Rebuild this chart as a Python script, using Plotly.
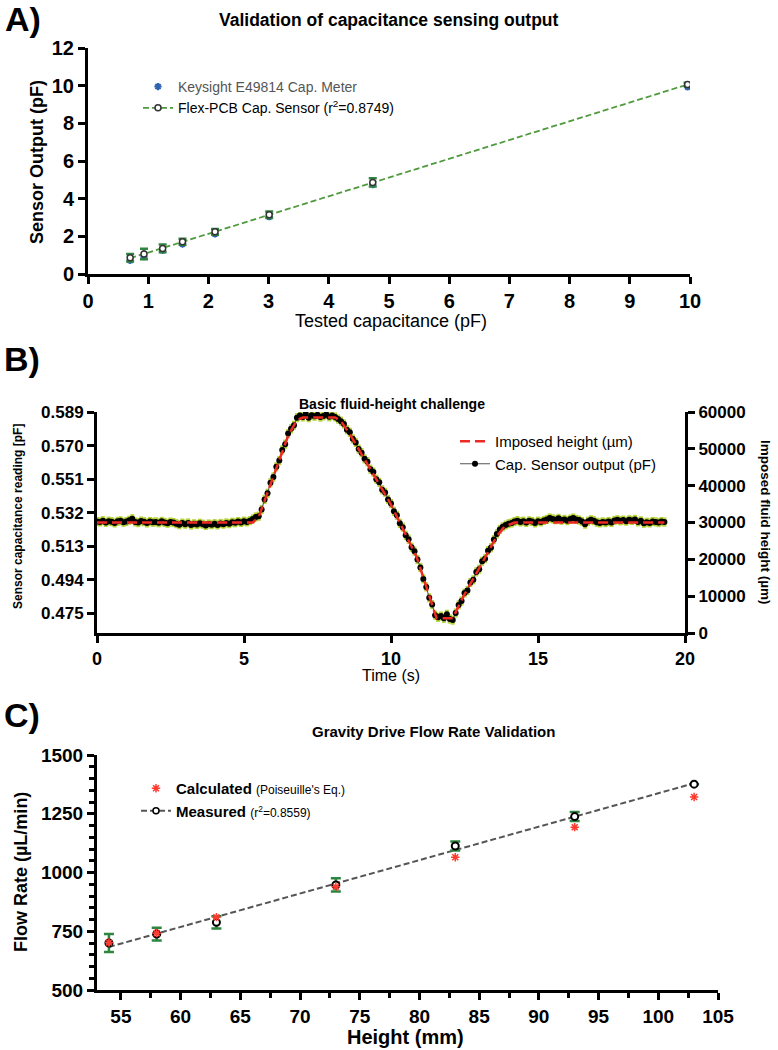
import numpy as np
import plotly.graph_objects as go

FONT = "Liberation Sans, Arial, Helvetica, sans-serif"

# ---------------- Panel A data ----------------
a_tested = [0.70, 0.93, 1.24, 1.57, 2.11, 3.01, 4.73, 9.96]
a_keysight = [0.72, 0.92, 1.25, 1.59, 2.13, 3.04, 4.75, 9.93]
a_sensor = [0.86, 1.06, 1.36, 1.71, 2.24, 3.15, 4.86, 10.06]
a_sensor_err = [0.20, 0.28, 0.20, 0.16, 0.15, 0.17, 0.22, 0.10]
a_xticks = [0, 1, 2, 3, 4, 5, 6, 7, 8, 9, 10]
a_yticks = [0, 2, 4, 6, 8, 10, 12]

# ---------------- Panel B data ----------------
b_dt = 0.1  # sampling period of the sensor (s)
b_cap = [
    0.5270, 0.5268, 0.5275, 0.5265, 0.5272, 0.5269, 0.5262, 0.5271, 0.5274, 0.5266,
    0.5270, 0.5277, 0.5286, 0.5268, 0.5264, 0.5273, 0.5269, 0.5262, 0.5270, 0.5266,
    0.5268, 0.5263, 0.5271, 0.5265, 0.5260, 0.5267, 0.5264, 0.5258, 0.5252, 0.5261,
    0.5255, 0.5262, 0.5250, 0.5257, 0.5253, 0.5260, 0.5255, 0.5248, 0.5256, 0.5252,
    0.5258, 0.5251, 0.5259, 0.5255, 0.5262, 0.5258, 0.5266, 0.5263, 0.5270, 0.5265,
    0.5272, 0.5268, 0.5275, 0.5285, 0.5296, 0.5300, 0.5338, 0.5395, 0.5430, 0.5490,
    0.5522, 0.5580, 0.5615, 0.5675, 0.5708, 0.5768, 0.5795, 0.5815, 0.5858, 0.5870,
    0.5862, 0.5880, 0.5858, 0.5872, 0.5866, 0.5874, 0.5861, 0.5868, 0.5876, 0.5863,
    0.5870, 0.5862, 0.5850, 0.5838, 0.5822, 0.5790, 0.5775, 0.5738, 0.5718, 0.5680,
    0.5660, 0.5625, 0.5608, 0.5566, 0.5550, 0.5510, 0.5492, 0.5450, 0.5435, 0.5395,
    0.5372, 0.5328, 0.5305, 0.5260, 0.5238, 0.5192, 0.5170, 0.5125, 0.5102, 0.5055,
    0.5010, 0.4945, 0.4900, 0.4838, 0.4800, 0.4740, 0.4728, 0.4735, 0.4722, 0.4745,
    0.4718, 0.4712, 0.4752, 0.4798, 0.4820, 0.4865, 0.4880, 0.4925, 0.4940, 0.4985,
    0.5000, 0.5045, 0.5060, 0.5105, 0.5122, 0.5168, 0.5200, 0.5225, 0.5240, 0.5250,
    0.5258, 0.5262, 0.5270, 0.5275, 0.5268, 0.5272, 0.5265, 0.5274, 0.5270, 0.5262,
    0.5272, 0.5268, 0.5276, 0.5282, 0.5290, 0.5285, 0.5280, 0.5288, 0.5277, 0.5282,
    0.5275, 0.5284, 0.5290, 0.5282, 0.5278, 0.5270, 0.5255, 0.5272, 0.5280, 0.5275,
    0.5266, 0.5262, 0.5268, 0.5264, 0.5270, 0.5265, 0.5276, 0.5280, 0.5274, 0.5278,
    0.5272, 0.5280, 0.5276, 0.5282, 0.5268, 0.5274, 0.5260, 0.5266, 0.5262, 0.5270,
    0.5268, 0.5264, 0.5270, 0.5267,
]
b_time = [round(i * b_dt, 1) for i in range(len(b_cap))]
b_cap_sd = 0.0026
b_imposed_t = [0, 5.3, 5.5, 6.0, 6.5, 6.8, 7.0, 8.1, 8.3, 8.6, 9.05, 9.97,
               10.87, 11.33, 11.55, 12.1, 12.46, 13.03, 13.59, 13.85, 14.2, 19.3]
b_imposed_h = [30000, 30000, 31500, 42500, 53500, 57800, 58500, 58500, 57500,
               54000, 47900, 35300, 20700, 9000, 4000, 4000, 9900, 18000, 26200,
               28800, 30000, 30000]
b_xticks = [0, 5, 10, 15, 20]
b_lticks = [0.475, 0.494, 0.513, 0.532, 0.551, 0.570, 0.589]
b_rticks = [0, 10000, 20000, 30000, 40000, 50000, 60000]

# ---------------- Panel C data ----------------
c_height = [54, 58, 63, 73, 83, 93, 103]
c_calc = [702, 742, 810, 939, 1065, 1193, 1321]
c_meas = [700, 738, 788, 947, 1113, 1238, 1376]
c_meas_err = [38, 27, 26, 28, 19, 19, None]
c_xticks = [55, 60, 65, 70, 75, 80, 85, 90, 95, 100, 105]
c_yticks = [500, 750, 1000, 1250, 1500]

fig = go.Figure()

# ---- Panel A ----
sA, iA = np.polyfit(a_tested, a_sensor, 1)
xfA = [min(a_tested), max(a_tested)]
yfA = [sA * v + iA for v in xfA]
fig.add_trace(go.Scatter(
    x=xfA, y=yfA, mode="lines+markers", xaxis="x", yaxis="y",
    line=dict(color="#4f9a3c", width=1.8, dash="6px,3px"),
    marker=dict(symbol="circle", size=6, color="white", line=dict(color="#333", width=1.5)),
    selectedpoints=[], unselected=dict(marker=dict(opacity=0)),
    name="Flex-PCB Cap. Sensor (r<sup>2</sup>=0.8749)", legend="legend", legendrank=2))
fig.add_trace(go.Scatter(
    x=a_tested, y=a_keysight, mode="markers", xaxis="x", yaxis="y",
    marker=dict(symbol="asterisk-open", size=6, color="#2f63b0", line=dict(color="#2f63b0", width=2)),
    name="<span style='color:#555'>Keysight E49814 Cap. Meter</span>", legend="legend", legendrank=1))
fig.add_trace(go.Scatter(
    x=a_tested, y=a_sensor, mode="markers", xaxis="x", yaxis="y",
    marker=dict(symbol="circle", size=6, color="white", line=dict(color="#333", width=1.5)),
    error_y=dict(type="data", array=a_sensor_err, color="#2e8540", thickness=2.5, width=4),
    showlegend=False))

# ---- Panel B ----
fig.add_trace(go.Scatter(
    x=b_time, y=b_cap, mode="lines+markers", xaxis="x2", yaxis="y2",
    line=dict(color="#555", width=1),
    marker=dict(color="black", size=6),
    error_y=dict(type="constant", value=b_cap_sd, color="#b5d33d", thickness=4, width=0),
    name="Cap. Sensor output (pF)", legend="legend2", legendrank=2))
fig.add_trace(go.Scatter(
    x=b_imposed_t, y=b_imposed_h, mode="lines", xaxis="x2", yaxis="y3",
    line=dict(color="#ee2a24", width=2.5, dash="10px,5px"),
    name="Imposed height (µm)", legend="legend2", legendrank=1))

# ---- Panel C ----
sC, iC = np.polyfit(c_height, c_meas, 1)
xfC = [min(c_height), max(c_height)]
yfC = [sC * v + iC for v in xfC]
fig.add_trace(go.Scatter(
    x=xfC, y=yfC, mode="lines+markers", xaxis="x3", yaxis="y4",
    line=dict(color="#555", width=2, dash="6px,3px"),
    marker=dict(symbol="circle", size=6, color="white", line=dict(color="black", width=1.5)),
    selectedpoints=[], unselected=dict(marker=dict(opacity=0)),
    name="<b>Measured</b> <span style='font-size:12px'>(r<sup>2</sup>=0.8559)</span>",
    legend="legend3", legendrank=2))
fig.add_trace(go.Scatter(
    x=c_height, y=c_meas, mode="markers", xaxis="x3", yaxis="y4",
    marker=dict(symbol="circle", size=7, color="white", line=dict(color="black", width=2)),
    error_y=dict(type="data", array=c_meas_err, color="#2e8540", thickness=2.5, width=5),
    showlegend=False))
fig.add_trace(go.Scatter(
    x=c_height, y=c_calc, mode="markers", xaxis="x3", yaxis="y4",
    marker=dict(symbol="asterisk-open", size=7, color="#ff3b30", line=dict(color="#ff3b30", width=1.5)),
    name="<b>Calculated</b> <span style='font-size:12px'>(Poiseuille's Eq.)</span>",
    legend="legend3", legendrank=1))


def ax(size, **kw):
    d = dict(showline=True, linecolor="black", linewidth=3, ticks="outside",
             ticklen=7, tickwidth=3, tickcolor="black", showgrid=False,
             zeroline=False, automargin=False,
             tickfont=dict(family=FONT, size=size, color="black", weight="bold"))
    d.update(kw)
    return d


W, H = 778, 1050


def px_x(p):
    return p / W


def px_y(p):
    return 1 - p / H


fig.update_layout(
    width=W, height=H, margin=dict(l=0, r=0, t=0, b=0, autoexpand=False),
    paper_bgcolor="white", plot_bgcolor="rgba(0,0,0,0)",
    font=dict(family=FONT, color="black"),
    xaxis=ax(20, domain=[px_x(88), px_x(690)], range=[0, 10], tickvals=a_xticks, anchor="y"),
    yaxis=ax(20, domain=[px_y(274), px_y(48)], range=[0, 12], tickvals=a_yticks, anchor="x"),
    xaxis2=ax(18, domain=[px_x(97), px_x(685)], range=[0, 20], tickvals=b_xticks, anchor="y2"),
    yaxis2=ax(17, domain=[px_y(633), px_y(412)], range=[0.4639, 0.589], tickvals=b_lticks,
              ticktext=[f"{v:.3f}" for v in b_lticks], anchor="x2"),
    yaxis3=ax(17, range=[0, 60000], tickvals=b_rticks, ticktext=[str(v) for v in b_rticks],
              overlaying="y2", side="right", anchor="x2"),
    xaxis3=ax(19, domain=[px_x(97), px_x(718)], range=[53, 105], tickvals=c_xticks, anchor="y4",
              minor=dict(dtick=2.5, tick0=52.5, ticks="outside", ticklen=5, tickwidth=3, tickcolor="black")),
    yaxis4=ax(19, domain=[px_y(990), px_y(755)], range=[500, 1500], tickvals=c_yticks, anchor="x3",
              minor=dict(dtick=50, tick0=500, ticks="outside", ticklen=5, tickwidth=3, tickcolor="black")),
    legend=dict(x=px_x(138), y=px_y(71), xanchor="left", yanchor="top", bgcolor="rgba(0,0,0,0)",
                font=dict(family=FONT, size=14, color="black"), tracegroupgap=0),
    legend2=dict(x=px_x(455), y=px_y(425), xanchor="left", yanchor="top", bgcolor="rgba(0,0,0,0)",
                 font=dict(family=FONT, size=15, color="black"), tracegroupgap=0),
    legend3=dict(x=px_x(136), y=px_y(772), xanchor="left", yanchor="top", bgcolor="rgba(0,0,0,0)",
                 font=dict(family=FONT, size=15, color="black"), tracegroupgap=0),
    showlegend=True,
)

anns = [
    ("<b>A)</b>", 23, 19, 34, 0),
    ("<b>Validation of capacitance sensing output</b>", 389, 20, 17.5, 0),
    ("<b>Sensor Output (pF)</b>", 37, 162, 18, -90),
    ("Tested capacitance (pF)", 391, 321, 18, 0),
    ("<b>B)</b>", 22, 359, 34, 0),
    ("<b>Basic fluid-height challenge</b>", 392, 404, 14, 0),
    ("<b>Sensor capacitance reading [pF]</b>", 18, 517, 12, -90),
    ("<b>Imposed fluid height (µm)</b>", 766, 522, 13.5, 90),
    ("Time (s)", 391, 675, 16, 0),
    ("<b>C)</b>", 22, 715, 34, 0),
    ("<b>Gravity Drive Flow Rate Validation</b>", 434, 731, 15, 0),
    ("<b>Flow Rate (µL/min)</b>", 21, 872, 18, -90),
    ("<b>Height (mm)</b>", 405, 1037, 20, 0),
]
for text, x, y, size, ang in anns:
    fig.add_annotation(text=text, x=px_x(x), y=px_y(y), xref="paper", yref="paper",
                       xanchor="center", yanchor="middle", showarrow=False, textangle=ang,
                       font=dict(family=FONT, size=size, color="black"))

fig.write_html("out.html", config={"displayModeBar": False},
               post_script="document.body.style.margin='0px';document.body.style.overflow='hidden';")
